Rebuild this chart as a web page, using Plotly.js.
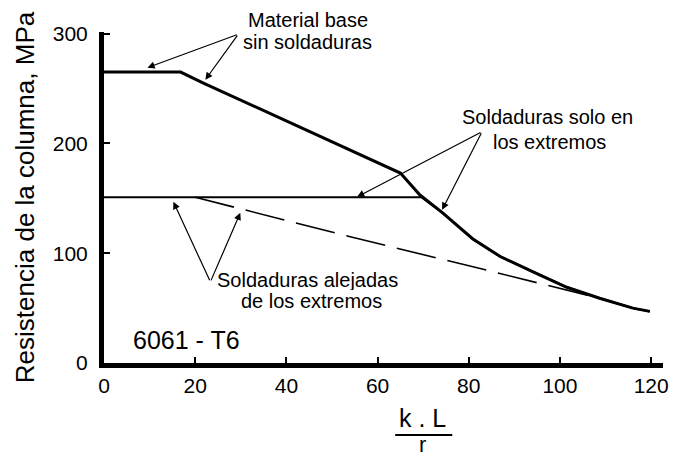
<!DOCTYPE html>
<html>
<head>
<meta charset="utf-8">
<script src="https://cdn.plot.ly/plotly-3.0.1.min.js"></script>
<style>html,body{margin:0;padding:0;background:#fff;}#chart{width:673px;height:457px;}</style>
</head>
<body>
<div id="chart"></div>
<script>
// Material base sin soldaduras
const baseX = [0, 16.8, 21.8, 65.0, 69.3, 74.2, 80.9, 86.9, 94.1, 101.5, 108.7, 116.0, 119.7];
const baseY = [265, 265, 255, 173, 153, 137, 113, 97, 83, 69, 59, 50, 47];
// Soldaduras solo en los extremos
const endsX = [0, 69.6, 74.2, 80.9, 86.9, 94.1, 101.5, 108.7, 116.0, 119.7];
const endsY = [151, 151, 137, 113, 97, 83, 69, 59, 50, 47];
// Soldaduras alejadas de los extremos
const awayX = [20, 54, 82.5, 108.7, 116.0, 119.7];
const awayY = [151, 115, 86, 59, 50, 47];

const xTicks = [0, 20, 40, 60, 80, 100, 120];
const yTicks = [0, 100, 200, 300];

const FONT = 'Liberation Sans, Arial, sans-serif';

const traces = [
  {x: awayX, y: awayY, mode: 'lines', line: {color: '#000', width: 1.6, dash: '40px,12px'}, hoverinfo: 'skip'},
  {x: endsX, y: endsY, mode: 'lines', line: {color: '#000', width: 2}, hoverinfo: 'skip'},
  {x: baseX, y: baseY, mode: 'lines', line: {color: '#000', width: 3}, hoverinfo: 'skip'}
];

function txt(t, x, y, size, h, xanchor, yshift) {
  const a = {text: t, x: x, y: y, xref: 'x', yref: 'y', showarrow: false,
          xanchor: xanchor || 'center', yanchor: 'middle', yshift: yshift || 0,
          font: {family: FONT, size: size, color: '#000'}};
  if (h) a.height = h;
  return a;
}
function arr(tipX, tipY, tailX, tailY) {
  return {text: '', x: tipX, y: tipY, ax: tailX, ay: tailY, axref: 'x', ayref: 'y',
          xref: 'x', yref: 'y', showarrow: true, arrowhead: 2, arrowsize: 1.2,
          arrowwidth: 1.2, arrowcolor: '#000', standoff: 0, startstandoff: 0};
}

const annotations = [
  txt('Material base', 44.8, 292.7, 20, 20, 'center', 22),
  txt('sin soldaduras', 44.6, 292.7, 20, 20),
  txt('Soldaduras solo en', 97.3, 224.5, 20, 22),
  txt('los extremos', 97.8, 201.5, 20, 22),
  txt('Soldaduras alejadas', 44.7, 75.7, 20, 21),
  txt('de los extremos', 45.5, 56.5, 20, 21),
  txt('6061 - T6', 6.0, 21, 25, null, 'left'),
  arr(9.53, 269.0, 29.46, 299.5),
  arr(22.23, 258.0, 29.46, 299.5),
  arr(55.53, 151.4, 82.91, 210.6),
  arr(74.15, 139.5, 82.91, 210.6),
  arr(15.22, 146.8, 23.33, 73.9),
  arr(29.9, 136.8, 23.33, 73.9),
  {text: 'k . L', x: 0.57, y: -0.1662, xref: 'paper', yref: 'paper', showarrow: false,
   xanchor: 'center', yanchor: 'middle', font: {family: FONT, size: 25, color: '#000'}},
  {text: 'r', x: 0.570, y: -0.2477, xref: 'paper', yref: 'paper', showarrow: false,
   xanchor: 'center', yanchor: 'middle', font: {family: FONT, size: 22, color: '#000'}}
];

const shapes = [
  {type: 'line', xref: 'paper', yref: 'paper', x0: 0.521, x1: 0.623, y0: -0.2175, y1: -0.2175,
   line: {color: '#000', width: 2}}
];

const axisCommon = {
  showline: true, linewidth: 5, linecolor: '#000', mirror: false,
  ticks: 'inside', ticklen: 6, tickwidth: 2, tickcolor: '#000',
  showgrid: false, zeroline: false, fixedrange: true,
  tickfont: {family: FONT, size: 21, color: '#000'}
};

const layout = {
  width: 673, height: 457,
  margin: {l: 104, r: 10, t: 32, b: 94},
  paper_bgcolor: '#fff', plot_bgcolor: '#fff',
  showlegend: false,
  xaxis: Object.assign({}, axisCommon, {range: [0, 122.6], tickvals: xTicks, ticktext: xTicks.map(String)}),
  yaxis: Object.assign({}, axisCommon, {range: [0, 301.5], tickvals: yTicks, ticktext: yTicks.map(String),
    ticklabelstandoff: 7,
    title: {text: 'Resistencia de la columna, MPa', font: {family: FONT, size: 26, color: '#000'}, standoff: 12}}),
  annotations: annotations,
  shapes: shapes
};

Plotly.newPlot('chart', traces, layout, {displayModeBar: false, staticPlot: true});
</script>
</body>
</html>
